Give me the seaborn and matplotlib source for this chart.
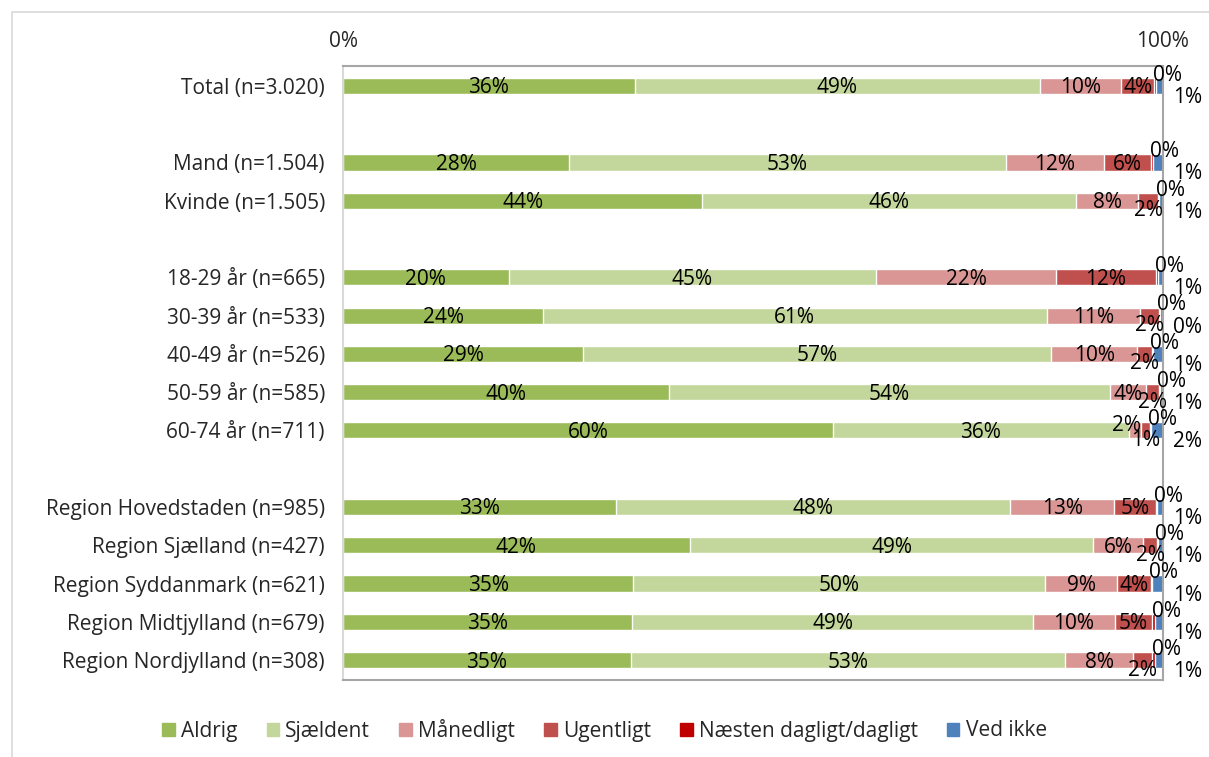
import matplotlib
matplotlib.use("Agg")
import matplotlib.pyplot as plt
import matplotlib.patches as mpatches
import seaborn as sns
import pandas as pd

# rows of the chart, blank strings are spacer rows
categories = [
    "Total (n=3.020)", " ",
    "Mand (n=1.504)", "Kvinde (n=1.505)", "  ",
    "18-29 år (n=665)", "30-39 år (n=533)", "40-49 år (n=526)",
    "50-59 år (n=585)", "60-74 år (n=711)", "   ",
    "Region Hovedstaden (n=985)", "Region Sjælland (n=427)",
    "Region Syddanmark (n=621)", "Region Midtjylland (n=679)",
    "Region Nordjylland (n=308)",
]
rows = [c for c in categories if c.strip()]

series = ["Aldrig", "Sjældent", "Månedligt", "Ugentligt",
          "Næsten dagligt/dagligt", "Ved ikke"]
colors = ["#9BBB59", "#C3D69B", "#D99694", "#C0504D", "#C00000", "#4F81BD"]

aldrig = [35.6, 27.6, 43.8, 20.2, 24.4, 29.3, 39.8, 59.8, 33.3, 42.3, 35.4, 35.2, 35.1]
sjaeldent = [49.4, 53.2, 45.6, 44.8, 61.4, 57.1, 53.7, 36.0, 48.1, 49.2, 50.2, 49.0, 52.9]
maanedligt = [9.9, 12.0, 7.6, 22.0, 11.4, 10.4, 4.4, 1.5, 12.6, 6.1, 8.8, 9.9, 8.4]
ugentligt = [4.0, 5.7, 2.4, 12.1, 2.3, 1.8, 1.6, 1.1, 5.2, 1.7, 4.1, 4.6, 2.3]
naesten = [0.2, 0.3, 0.1, 0.3, 0.1, 0.2, 0.1, 0.1, 0.1, 0.1, 0.2, 0.3, 0.3]
ved_ikke = [0.9, 1.2, 0.6, 0.6, 0.4, 1.2, 0.6, 1.5, 0.7, 0.6, 1.3, 1.0, 1.0]

df = pd.DataFrame({"gruppe": rows, "Aldrig": aldrig, "Sjældent": sjaeldent,
                   "Månedligt": maanedligt, "Ugentligt": ugentligt,
                   "Næsten dagligt/dagligt": naesten, "Ved ikke": ved_ikke})

sns.set_style("white")
plt.rcParams["font.family"] = ["Open Sans", "DejaVu Sans"]

fig = plt.figure(figsize=(12.09, 7.57), dpi=100)
ax = fig.add_axes([343 / 1209, 1 - 680 / 757, 820 / 1209, 614 / 757])

cum = df[series].cumsum(axis=1)
# overlay cumulative bars from the longest to the shortest
for i in range(len(series) - 1, -1, -1):
    d = pd.DataFrame({"gruppe": df["gruppe"], "v": cum[series[i]]})
    sns.barplot(data=d, y="gruppe", x="v", order=categories, color=colors[i],
                width=0.42, saturation=1, ax=ax, orient="h")

ypos = {c: k for k, c in enumerate(categories)}
fs = 15
for _, r in df.iterrows():
    y = ypos[r["gruppe"]]
    left = 0
    for j, s in enumerate(series):
        v = r[s]
        lab = f"{int(round(v))}%"
        if j < 2:
            ax.text(left + v / 2, y + 0.05, lab, ha="center", va="center",
                    fontsize=fs, color="black")
        elif j == 2:
            if v >= 3:
                ax.text(left + v / 2, y + 0.05, lab, ha="center", va="center",
                        fontsize=fs, color="black")
            else:
                ax.text(left + v, y - 0.12, lab, ha="right", va="center",
                        fontsize=fs, color="black")
        elif j == 3:
            dy = 0.05 if v >= 3 else 0.26
            ax.text(left + v / 2, y + dy, lab, ha="center", va="center",
                    fontsize=fs, color="black")
        elif j == 4:
            ax.text(left + v + 1.4, y - 0.28, lab, ha="center", va="center",
                    fontsize=fs, color="black")
        else:
            ax.text(103.0, y + 0.3, lab, ha="center", va="center",
                    fontsize=fs, color="black", clip_on=False)
        left += v

ax.set_xlim(0, 100)
ax.set_ylim(len(categories) - 0.48, -0.52)
ax.set_xticks([0, 100])
ax.set_xticklabels(["0%", "100%"], fontsize=fs)
ax.xaxis.tick_top()
ax.tick_params(axis="x", length=0, pad=10)
ax.tick_params(axis="y", length=0, pad=13, labelsize=fs)
ax.set_xlabel("")
ax.set_ylabel("")
for side in ["top", "right", "bottom"]:
    ax.spines[side].set_color("#a6a6a6")
    ax.spines[side].set_linewidth(1.5)
ax.spines["left"].set_color("#d9d9d9")
ax.spines["left"].set_linewidth(1.5)

handles = [mpatches.Patch(color=c, label=s) for c, s in zip(colors, series)]
fig.legend(handles=handles, loc="center", bbox_to_anchor=(0.5, 1 - 730 / 757),
           ncol=6, frameon=False, fontsize=fs, handlelength=0.6,
           handleheight=0.6, handletextpad=0.3, columnspacing=1.4)

fig.patches.append(mpatches.Rectangle((12 / 1209, -0.1), 1.2, 1.1 - 12 / 757,
                                      transform=fig.transFigure, fill=False,
                                      edgecolor="#d9d9d9", linewidth=1.2))

fig.savefig("out.png", dpi=100)
